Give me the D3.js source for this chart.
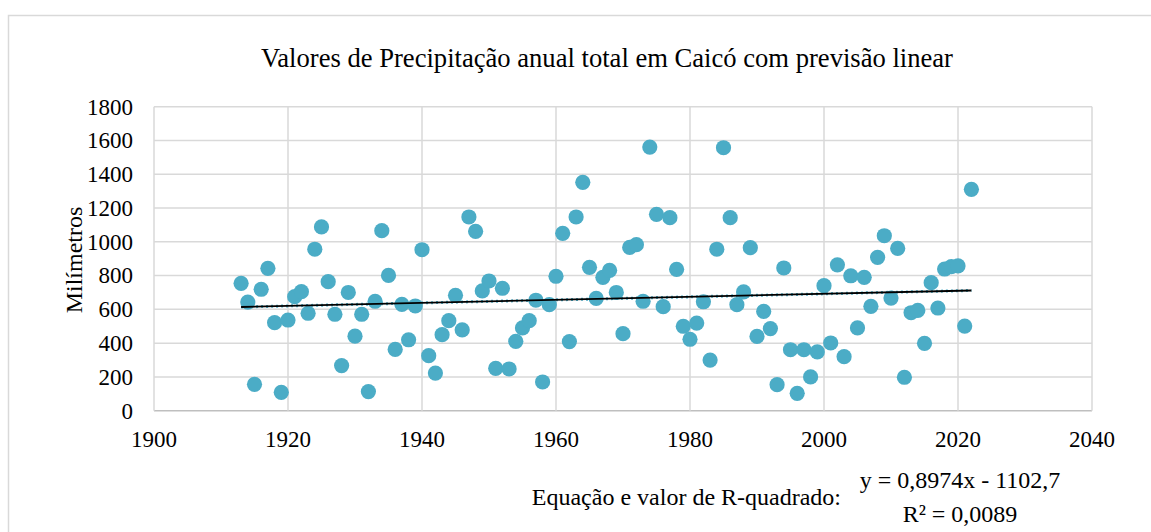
<!DOCTYPE html>
<html>
<head>
<meta charset="utf-8">
<script src="https://cdn.jsdelivr.net/npm/d3@7"></script>
<style>
  body { margin: 0; background: #fff; }
  text { font-family: "Liberation Serif", "Times New Roman", serif; fill: #000; }
</style>
</head>
<body>
<div id="chart"></div>
<script>
let width = 1151;
let height = 532;

// annual precipitation in Caicó (mm), 1913 - 2022
let years = d3.range(1913, 2023);
let rainfall = [
    754, 643, 156, 719, 843, 521, 109, 537, 675, 705,
    577, 956, 1088, 764, 571, 267, 700, 441, 571, 113,
    648, 1066, 801, 363, 630, 420, 620, 953, 326, 223,
    450, 533, 683, 478, 1147, 1062, 709, 768, 251, 725,
    247, 411, 490, 533, 654, 170, 628, 796, 1050, 409,
    1147, 1352, 849, 665, 790, 831, 700, 456, 967, 983,
    648, 1561, 1163, 616, 1143, 837, 500, 423, 519, 645,
    300, 956, 1557, 1143, 628, 703, 965, 440, 588, 486,
    154, 845, 361, 103, 361, 200, 348, 740, 401, 864,
    320, 799, 490, 790, 618, 908, 1036, 667, 961, 198,
    580, 594, 399, 758, 608, 839, 853, 857, 501, 1311
];
let xTicks = [1900, 1920, 1940, 1960, 1980, 2000, 2020, 2040];
let yTicks = [0, 200, 400, 600, 800, 1000, 1200, 1400, 1600, 1800];
let slope = 0.8974;
let intercept = -1102.7;

let svg = d3.select("div#chart").append("svg")
    .attr("width", width)
    .attr("height", height);

// chart frame
svg.append("rect")
    .attr("x", 8.5)
    .attr("y", 15.5)
    .attr("width", 1160)
    .attr("height", 540)
    .attr("fill", "none")
    .attr("stroke", "#d9d9d9")
    .attr("stroke-width", 1.5);

let x = d3.scaleLinear().domain([1900, 2040]).range([154, 1092]);
let y = d3.scaleLinear().domain([0, 1800]).range([410.7, 106.7]);

// gridlines
yTicks.forEach(t => {
    svg.append("line")
        .attr("x1", x(1900)).attr("x2", x(2040))
        .attr("y1", y(t)).attr("y2", y(t))
        .attr("stroke", t === 0 ? "#bfbfbf" : "#d9d9d9")
        .attr("stroke-width", 1.5);
});
xTicks.forEach(t => {
    svg.append("line")
        .attr("x1", x(t)).attr("x2", x(t))
        .attr("y1", y(0)).attr("y2", y(1800))
        .attr("stroke", "#d9d9d9")
        .attr("stroke-width", 1.5);
});

// tick labels
svg.selectAll(".ylab").data(yTicks).enter().append("text")
    .attr("class", "ylab")
    .attr("x", 133)
    .attr("y", d => y(d))
    .attr("dy", "0.34em")
    .attr("text-anchor", "end")
    .attr("font-size", 23)
    .text(d => d);

svg.selectAll(".xlab").data(xTicks).enter().append("text")
    .attr("class", "xlab")
    .attr("x", d => x(d))
    .attr("y", 447)
    .attr("text-anchor", "middle")
    .attr("font-size", 23)
    .text(d => d);

// axis title
svg.append("text")
    .attr("transform", "translate(82, 260) rotate(-90)")
    .attr("text-anchor", "middle")
    .attr("font-size", 24)
    .text("Milímetros");

// chart title
svg.append("text")
    .attr("x", 607)
    .attr("y", 67)
    .attr("text-anchor", "middle")
    .attr("font-size", 26.6)
    .text("Valores de Precipitação anual total em Caicó com previsão linear");

// points
let data = years.map((yr, i) => ({year: yr, value: rainfall[i]}));
svg.selectAll("circle.pt").data(data).enter().append("circle")
    .attr("class", "pt")
    .attr("cx", d => x(d.year))
    .attr("cy", d => y(d.value))
    .attr("r", 7.6)
    .attr("fill", "#4bacc6");

// linear trend
let trend = [years[0], years[years.length - 1]].map(yr => ({year: yr, value: slope * yr + intercept}));
let line = d3.line()
    .x(d => x(d.year))
    .y(d => y(d.value));

svg.append("path")
    .datum(trend)
    .attr("d", line)
    .attr("fill", "none")
    .attr("stroke", "#4bacc6")
    .attr("stroke-width", 3)
    .attr("stroke-dasharray", "2,3");

svg.append("path")
    .datum(trend)
    .attr("d", line)
    .attr("fill", "none")
    .attr("stroke", "#000")
    .attr("stroke-width", 1.8);

// equation
svg.append("text")
    .attr("x", 841)
    .attr("y", 505)
    .attr("text-anchor", "end")
    .attr("font-size", 24)
    .text("Equação e valor de R-quadrado:");

svg.append("text")
    .attr("x", 960)
    .attr("y", 488)
    .attr("text-anchor", "middle")
    .attr("font-size", 24)
    .text("y = 0,8974x - 1102,7");

svg.append("text")
    .attr("x", 960)
    .attr("y", 522)
    .attr("text-anchor", "middle")
    .attr("font-size", 24)
    .text("R² = 0,0089");
</script>
</body>
</html>
